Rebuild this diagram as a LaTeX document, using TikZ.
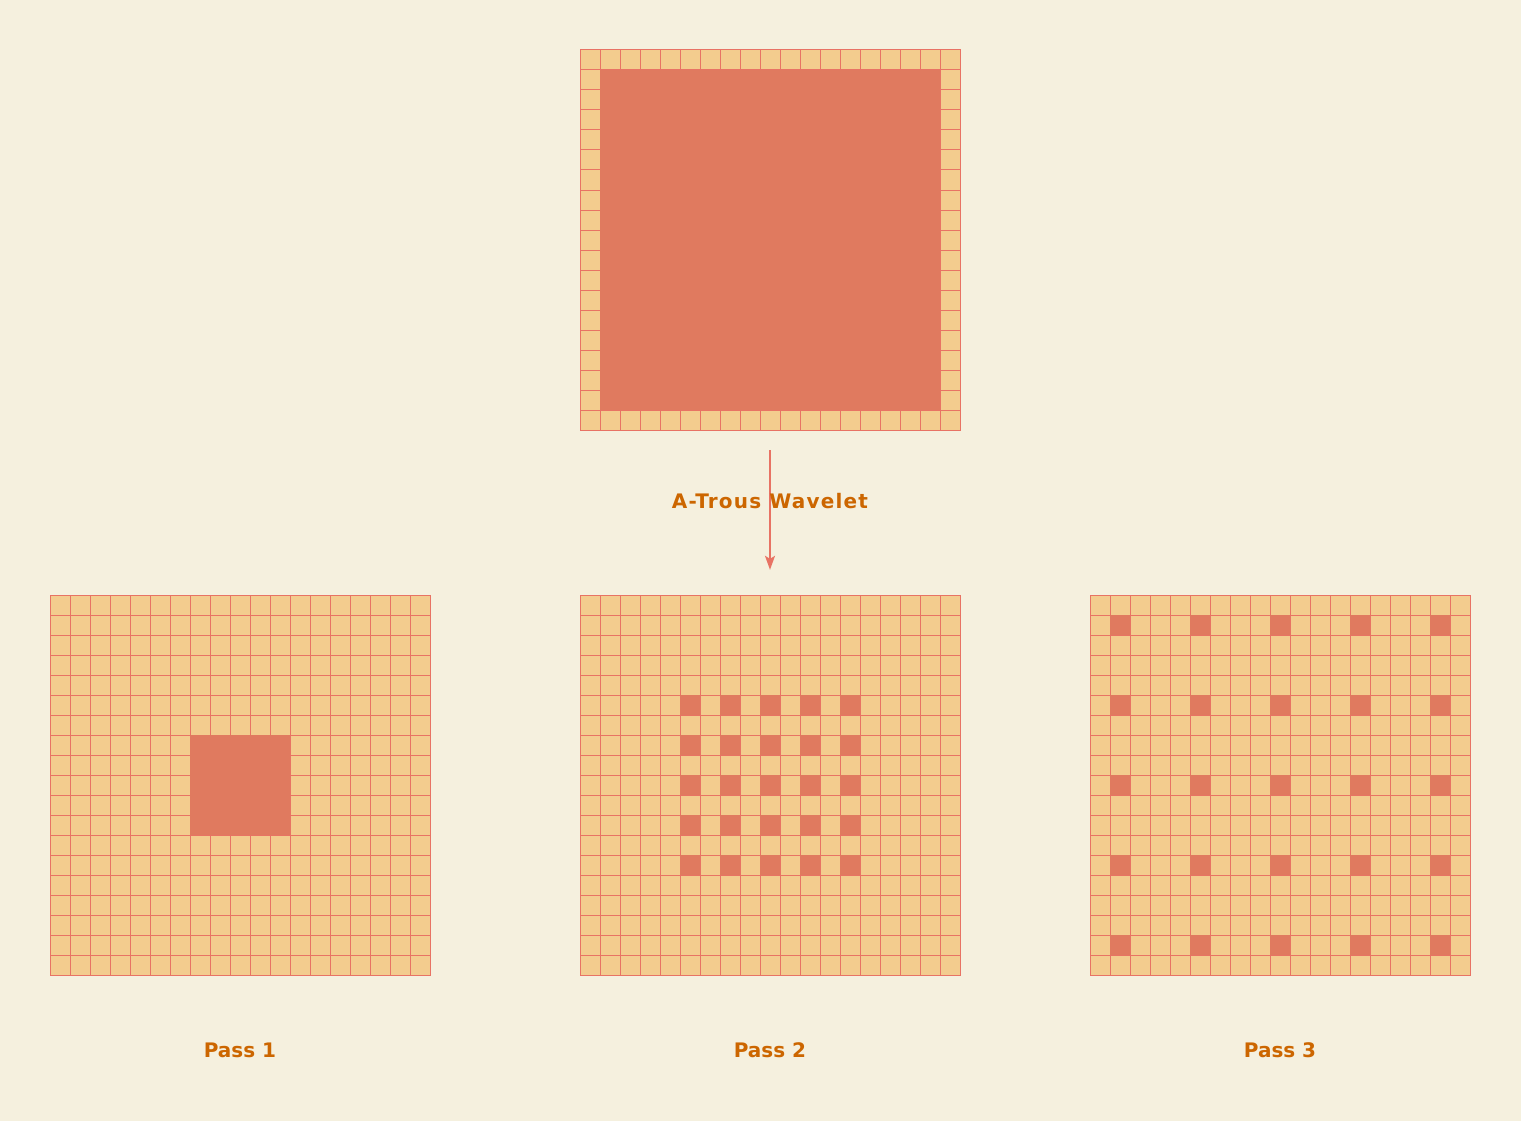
\documentclass[tikz,border=0pt]{standalone}
\usepackage{fontspec}
\setmainfont{DejaVu Sans}
\usetikzlibrary{arrows.meta,positioning}
\definecolor{paper}{RGB}{245,240,222}
\definecolor{cellfill}{RGB}{243,204,142}
\definecolor{cellline}{RGB}{232,115,100}
\definecolor{tapfill}{RGB}{224,122,95}
\definecolor{labeltext}{RGB}{204,102,0}
\tikzset{
    %Define standard arrow tip
    >={Stealth[length=14pt,width=10pt,inset=3pt]},
    %Define style for grid cells
    cell/.style={
      fill=cellfill,
      draw=cellline,
      line width=1pt},
    %Define style for filter taps
    tap/.style={fill=tapfill},
    %Define style for grid frames
    frame/.style={
      rectangle,
      minimum size=380pt,
      inner sep=0pt},
    %Define style for labels
    caption/.style={
      font=\bfseries\fontsize{20}{24}\selectfont,
      text=labeltext},
    % Define arrow style
    arr/.style={
      ->,
      draw=cellline,
      line width=1.5pt,
      shorten <=20pt,
      shorten >=25pt,}
}
% 19x19 grid of cells, top left corner at (#1,#2)
\newcommand{\cellgrid}[2]{
  \foreach \i in {0,...,18}
    \foreach \j in {0,...,18}
      \draw[cell] (#1+20*\i,#2+20*\j) rectangle ++(20,20);
}

\begin{document}
\begin{tikzpicture}[x=1pt, y=-1pt]
    \fill[paper] (0,0) rectangle (1521,1121);
    \useasboundingbox (0,0) rectangle (1521,1121);

    \node[frame] (input) at (770,240) {};
    \node[frame] (pass1) at (240,785) {};
    \node[frame] (pass2) at (770,785) {};
    \node[frame] (pass3) at (1280,785) {};

    % input image
    \cellgrid{580}{50}
    \fill[tap] (600,70) rectangle (940,410);

    % pass 1: dense 5x5 kernel
    \cellgrid{50}{595}
    \fill[tap] (190,735) rectangle (290,835);

    % pass 2: holes of one cell
    \cellgrid{580}{595}
    \foreach \i in {5,7,...,13}
      \foreach \j in {5,7,...,13}
        \fill[tap] (580+20*\i,595+20*\j) rectangle ++(20,20);

    % pass 3: holes of three cells
    \cellgrid{1090}{595}
    \foreach \i in {1,5,...,17}
      \foreach \j in {1,5,...,17}
        \fill[tap] (1090+20*\i,595+20*\j) rectangle ++(20,20);

    \draw[arr] (input.south) -- node[caption, pos=0.43]
      {\addfontfeature{LetterSpace=6}A-Trous Wavelet} (pass2.north);

    \node[caption] (cap1) at (240,1050) {Pass 1};
    \node[caption] (cap2) at (770,1050) {Pass 2};
    \node[caption] (cap3) at (1280,1050) {Pass 3};
\end{tikzpicture}
\end{document}
